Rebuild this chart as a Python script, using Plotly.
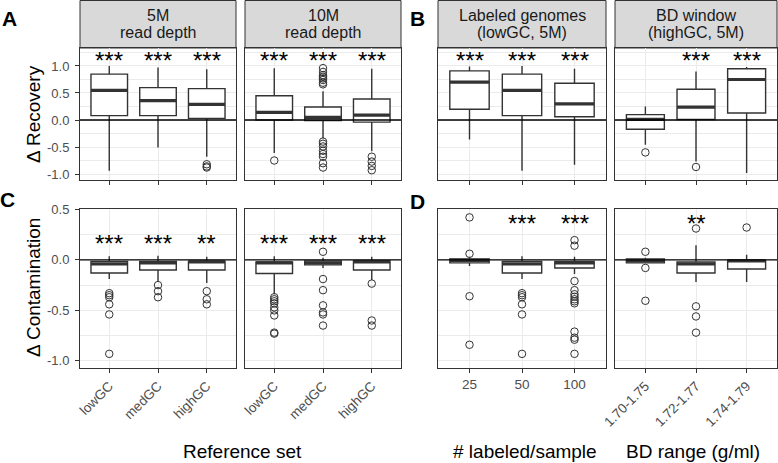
import plotly.graph_objects as go

W, H = 778, 463

# ---------------- data ----------------
cats_ref = ["lowGC", "medGC", "highGC"]
cats_lab = ["25", "50", "100"]
cats_bd = ["1.70-1.75", "1.72-1.77", "1.74-1.79"]

strip_titles = [("5M", "read depth"), ("10M", "read depth"),
                ("Labeled genomes", "(lowGC, 5M)"), ("BD window", "(highGC, 5M)")]

# Recovery (top row) -- [lower whisker, q1, median, q3, upper whisker]
rec_5M_lo = [-0.94, -0.51, -0.68]
rec_5M_q1 = [0.08, 0.08, 0.03]
rec_5M_med = [0.55, 0.36, 0.29]
rec_5M_q3 = [0.85, 0.60, 0.58]
rec_5M_hi = [1.00, 0.97, 0.94]
rec_5M_out = [[], [], [-0.82, -0.86, -0.88]]
rec_5M_sig = ["***", "***", "***"]

rec_10M_lo = [-0.61, -0.34, -0.58]
rec_10M_q1 = [0.00, -0.01, -0.04]
rec_10M_med = [0.14, 0.05, 0.09]
rec_10M_q3 = [0.45, 0.24, 0.39]
rec_10M_hi = [0.96, 0.53, 0.95]
rec_10M_out = [[-0.75],
               [0.96, 0.89, 0.83, 0.80, 0.77, 0.74, 0.69, 0.66,
                -0.40, -0.44, -0.49, -0.57, -0.63, -0.68, -0.80, -0.88],
               [-0.68, -0.77, -0.85, -0.93]]
rec_10M_sig = ["***", "***", "***"]

rec_lab_lo = [-0.36, -0.94, -0.83]
rec_lab_q1 = [0.20, 0.08, 0.06]
rec_lab_med = [0.70, 0.55, 0.30]
rec_lab_q3 = [0.91, 0.85, 0.68]
rec_lab_hi = [0.99, 1.00, 0.95]
rec_lab_out = [[], [], []]
rec_lab_sig = ["***", "***", "***"]

rec_bd_lo = [-0.46, -0.77, -0.98]
rec_bd_q1 = [-0.17, 0.01, 0.13]
rec_bd_med = [0.01, 0.24, 0.75]
rec_bd_q3 = [0.10, 0.57, 0.95]
rec_bd_hi = [0.25, 0.90, 0.98]
rec_bd_out = [[-0.60], [-0.87], []]
rec_bd_sig = ["", "***", "***"]

# Contamination (bottom row)
con_5M_lo = [-0.19, -0.21, -0.23]
con_5M_q1 = [-0.13, -0.10, -0.10]
con_5M_med = [-0.04, -0.03, -0.02]
con_5M_q3 = [-0.015, -0.015, -0.015]
con_5M_hi = [0.035, 0.04, 0.03]
con_5M_out = [[-0.33, -0.35, -0.37, -0.44, -0.54, -0.93],
              [-0.25, -0.31, -0.37],
              [-0.31, -0.39, -0.44]]
con_5M_sig = ["***", "***", "**"]

con_10M_lo = [-0.34, -0.08, -0.20]
con_10M_q1 = [-0.135, -0.05, -0.10]
con_10M_med = [-0.03, -0.03, -0.02]
con_10M_q3 = [-0.02, -0.01, -0.01]
con_10M_hi = [0.035, 0.02, 0.03]
con_10M_out = [[-0.37, -0.39, -0.41, -0.43, -0.47, -0.50, -0.55, -0.72, -0.73],
               [0.08, -0.19, -0.30, -0.45, -0.52, -0.54, -0.65],
               [-0.235, -0.60, -0.65]]
con_10M_sig = ["***", "***", "***"]

con_lab_lo = [-0.06, -0.19, -0.14]
con_lab_q1 = [-0.03, -0.13, -0.08]
con_lab_med = [-0.005, -0.04, -0.03]
con_lab_q3 = [0.01, -0.015, -0.015]
con_lab_hi = [0.03, 0.035, 0.03]
con_lab_out = [[0.42, 0.06, -0.36, -0.84],
               [-0.33, -0.35, -0.37, -0.44, -0.54, -0.93],
               [0.195, 0.14, -0.21, -0.30, -0.34, -0.365, -0.39, -0.41, -0.43,
                -0.71, -0.77, -0.79, -0.93]]
con_lab_sig = ["", "***", "***"]

con_bd_lo = [-0.03, -0.22, -0.22]
con_bd_q1 = [-0.03, -0.13, -0.09]
con_bd_med = [-0.01, -0.04, -0.01]
con_bd_q3 = [0.01, -0.02, -0.005]
con_bd_hi = [0.02, 0.145, 0.05]
con_bd_out = [[0.08, -0.08, -0.405], [0.31, -0.46, -0.56, -0.72], [0.32]]
con_bd_sig = ["", "**", ""]

rec_ticks = [-1.0, -0.5, 0.0, 0.5, 1.0]
rec_ticklabels = ["-1.0", "-0.5", "0.0", "0.5", "1.0"]
con_ticks = [-1.0, -0.5, 0.0, 0.5]
con_ticklabels = ["-1.0", "-0.5", "0.0", "0.5"]

panels = [
    # (cats, lo, q1, med, q3, hi, out, sig, star_y)
    (cats_ref, rec_5M_lo, rec_5M_q1, rec_5M_med, rec_5M_q3, rec_5M_hi, rec_5M_out, rec_5M_sig, 1.17),
    (cats_ref, rec_10M_lo, rec_10M_q1, rec_10M_med, rec_10M_q3, rec_10M_hi, rec_10M_out, rec_10M_sig, 1.17),
    (cats_lab, rec_lab_lo, rec_lab_q1, rec_lab_med, rec_lab_q3, rec_lab_hi, rec_lab_out, rec_lab_sig, 1.17),
    (cats_bd, rec_bd_lo, rec_bd_q1, rec_bd_med, rec_bd_q3, rec_bd_hi, rec_bd_out, rec_bd_sig, 1.17),
    (cats_ref, con_5M_lo, con_5M_q1, con_5M_med, con_5M_q3, con_5M_hi, con_5M_out, con_5M_sig, 0.205),
    (cats_ref, con_10M_lo, con_10M_q1, con_10M_med, con_10M_q3, con_10M_hi, con_10M_out, con_10M_sig, 0.205),
    (cats_lab, con_lab_lo, con_lab_q1, con_lab_med, con_lab_q3, con_lab_hi, con_lab_out, con_lab_sig, 0.40),
    (cats_bd, con_bd_lo, con_bd_q1, con_bd_med, con_bd_q3, con_bd_hi, con_bd_out, con_bd_sig, 0.40),
]

# ---------------- layout geometry (pixels) ----------------
FONT = "Liberation Sans, Arial, Helvetica, sans-serif"
DARK = "#333333"
GRID = "#ebebeb"
xpix = [(80, 236), (245, 401), (438, 606), (615, 777)]
ypix_top = (48, 180)
ypix_bot = (209, 368)
strip_pix = (0, 48)


def px(x):
    return x / W


def py(y):
    return 1 - y / H


fig = go.Figure()
BW = 0.75

for k, (cats, lo, q1, med, q3, hi, out, sig, star_y) in enumerate(panels):
    n = k + 1
    xa = "x" if n == 1 else f"x{n}"
    ya = "y" if n == 1 else f"y{n}"
    pos = list(range(1, len(cats) + 1))
    fig.add_trace(go.Box(
        x=pos, lowerfence=lo, q1=q1, median=med, q3=q3, upperfence=hi,
        width=BW, whiskerwidth=0, boxpoints=False,
        fillcolor="white", line=dict(color=DARK, width=1.4),
        xaxis=xa, yaxis=ya, showlegend=False, hoverinfo="skip"))
    # thick median (ggplot style)
    mx, my = [], []
    for p, m in zip(pos, med):
        mx += [p - BW / 2, p + BW / 2, None]
        my += [m, m, None]
    fig.add_trace(go.Scatter(x=mx, y=my, mode="lines",
                             line=dict(color=DARK, width=3.2),
                             xaxis=xa, yaxis=ya, showlegend=False, hoverinfo="skip"))
    # outliers
    ox, oy = [], []
    for p, vals in zip(pos, out):
        ox += [p] * len(vals)
        oy += vals
    fig.add_trace(go.Scatter(x=ox, y=oy, mode="markers",
                             marker=dict(symbol="circle-open", size=7.5,
                                         color=DARK, line=dict(width=1, color=DARK)),
                             xaxis=xa, yaxis=ya, showlegend=False, hoverinfo="skip"))
    # significance stars
    for p, s in zip(pos, sig):
        if s:
            fig.add_annotation(x=p, y=star_y, xref=xa, yref=ya, text=s,
                               showarrow=False, xanchor="center", yanchor="middle", yshift=-4,
                               font=dict(family=FONT, size=24, color="black"))
    # zero reference line
    fig.add_shape(type="line", xref=f"{xa} domain", yref=ya, x0=0, x1=1, y0=0, y1=0,
                  line=dict(color="black", width=1.4), layer="above")

    col = k % 4
    top = k < 4
    x0, x1 = xpix[col]
    y0, y1 = ypix_top if top else ypix_bot
    xkey = "xaxis" if n == 1 else f"xaxis{n}"
    ykey = "yaxis" if n == 1 else f"yaxis{n}"
    show_xlab = not top
    angle = 0 if (not top and col == 2) else -45
    fig.layout[xkey] = dict(
        domain=[px(x0), px(x1)], anchor=ya, range=[0.4, 3.6], automargin=False,
        tickvals=pos, ticktext=cats, showticklabels=show_xlab, tickangle=angle,
        ticks="outside", ticklen=4, tickwidth=1, tickcolor=DARK,
        tickfont=dict(family=FONT, size=13.5, color="#4d4d4d"),
        showgrid=True, gridcolor=GRID, gridwidth=1, zeroline=False,
        showline=True, mirror=True, linecolor=DARK, linewidth=1, fixedrange=True)
    if top:
        yr = [-1.111, 1.333]
        tv, tt = rec_ticks, rec_ticklabels
    else:
        yr = [-1.07, 0.503]
        tv, tt = con_ticks, con_ticklabels
    fig.layout[ykey] = dict(
        domain=[py(y1), py(y0)], anchor=xa, range=yr, automargin=False,
        tickvals=tv, ticktext=tt, showticklabels=(col == 0),
        ticks="outside" if col == 0 else "", ticklen=4, tickwidth=1, tickcolor=DARK,
        ticklabelstandoff=3,
        tickfont=dict(family=FONT, size=13, color="#4d4d4d"),
        showgrid=True, gridcolor=GRID, gridwidth=1, zeroline=False,
        minor=dict(dtick=0.25, tick0=0, showgrid=True, gridcolor=GRID, gridwidth=0.6, ticks=""),
        showline=True, mirror=True, linecolor=DARK, linewidth=1, fixedrange=True)

# strips
for col, (l1, l2) in enumerate(strip_titles):
    x0, x1 = xpix[col]
    fig.add_shape(type="rect", xref="paper", yref="paper",
                  x0=px(x0), x1=px(x1), y0=py(strip_pix[1]), y1=py(strip_pix[0] + 0.5),
                  fillcolor="#d9d9d9", line=dict(color=DARK, width=1), layer="below")
    cx = px((x0 + x1) / 2)
    fig.add_annotation(x=cx, y=py(16), xref="paper", yref="paper", text=l1, showarrow=False,
                       xanchor="center", yanchor="middle",
                       font=dict(family=FONT, size=16, color="#1a1a1a"))
    fig.add_annotation(x=cx, y=py(33), xref="paper", yref="paper", text=l2, showarrow=False,
                       xanchor="center", yanchor="middle",
                       font=dict(family=FONT, size=16, color="#1a1a1a"))

# axis titles
fig.add_annotation(x=px(33), y=py(114), xref="paper", yref="paper", text="Δ Recovery",
                   textangle=-90, showarrow=False, xanchor="center", yanchor="middle",
                   font=dict(family=FONT, size=19, color="black"))
fig.add_annotation(x=px(33), y=py(288), xref="paper", yref="paper", text="Δ Contamination",
                   textangle=-90, showarrow=False, xanchor="center", yanchor="middle",
                   font=dict(family=FONT, size=19, color="black"))
for txt, cx in [("Reference set", 242), ("# labeled/sample", 525), ("BD range (g/ml)", 693)]:
    fig.add_annotation(x=px(cx), y=py(451), xref="paper", yref="paper", text=txt,
                       showarrow=False, xanchor="center", yanchor="middle",
                       font=dict(family=FONT, size=19, color="black"))

# panel letters
for lab, lx, ly in [("A", 9, 18), ("B", 417, 18), ("C", 8, 199), ("D", 417, 201)]:
    fig.add_annotation(x=px(lx), y=py(ly), xref="paper", yref="paper", text=f"<b>{lab}</b>",
                       showarrow=False, xanchor="center", yanchor="middle",
                       font=dict(family=FONT, size=21, color="black"))

fig.update_layout(width=W, height=H,
                  margin=dict(l=0, r=0, t=0, b=0, pad=0, autoexpand=False),
                  paper_bgcolor="white", plot_bgcolor="white", showlegend=False)

fig.write_html("out.html", config={"displayModeBar": False},
               post_script="document.body.style.margin='0';")
